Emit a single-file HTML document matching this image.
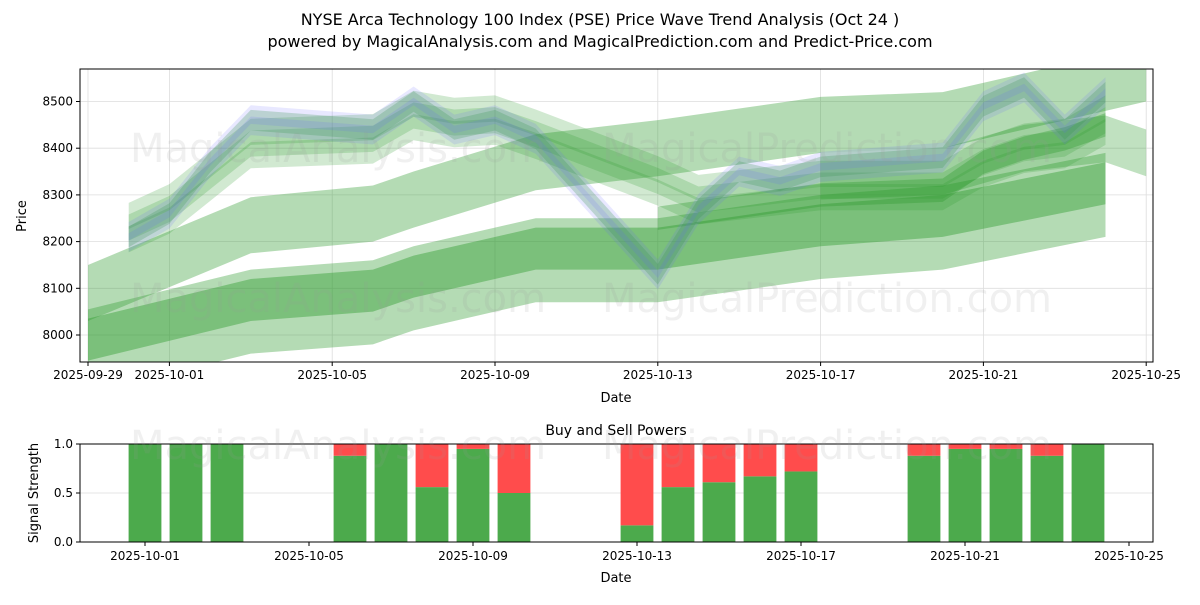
<!DOCTYPE html>
<html><head><meta charset="utf-8"><style>
body{margin:0;background:#fff;}
svg text{font-family:"DejaVu Sans","Liberation Sans",sans-serif;}
</style></head><body>
<svg id="c" width="1200" height="600" viewBox="0 0 1200 600" xmlns="http://www.w3.org/2000/svg">
<defs><clipPath id="clipTop"><rect x="80" y="69" width="1073" height="293"/></clipPath></defs>
<rect width="1200" height="600" fill="#fff"/>
<text x="600" y="25" text-anchor="middle" font-size="16">NYSE Arca Technology 100 Index (PSE) Price Wave Trend Analysis (Oct 24 )</text>
<text x="600" y="47" text-anchor="middle" font-size="16">powered by MagicalAnalysis.com and MagicalPrediction.com and Predict-Price.com</text>
<g id="topPanel"></g>
<g id="botPanel"></g>
</svg>
<script>
// day offsets from 2025-09-29
const tradeDays = [1,2,3,4,7,8,9,10,11,14,15,16,17,18,21,22,23,24,25];
const priceVals = [8210,8260,8370,8460,8440,8500,8440,8460,8420,8130,8270,8350,8330,8360,8380,8490,8530,8440,8520];
const clusterVals = [8230,8270,8340,8410,8420,8470,8455,8460,8430,8330,8290,8300,8310,8320,8320,8370,8400,8410,8460];
const midDays = [0,4,7,8,11,14,18,21,25,26];
const midVals = [8090,8235,8260,8290,8370,8400,8450,8460,8540,8560];
const lowDays = [0,4,7,8,11,14,18,21,25];
const lowVals = [7985,8070,8090,8120,8180,8180,8230,8250,8320];
const rightDays = [14,18,21,22,23,24,25];
const rightVals = [8250,8300,8310,8370,8400,8420,8450];
const extraDays = [18,21,23,25,26];
const extraVals = [8340,8350,8400,8420,8390];
const priceTicks = [8000,8100,8200,8300,8400,8500];
const topTickDays = [0,2,6,10,14,18,22,26];
const topTickLabels = ['2025-09-29','2025-10-01','2025-10-05','2025-10-09','2025-10-13','2025-10-17','2025-10-21','2025-10-25'];
const buyVals = [1,1,1,0.88,1,0.56,0.95,0.5,0.17,0.56,0.61,0.67,0.72,0.88,0.95,0.95,0.88,1];
const barDays = [2,3,4,7,8,9,10,11,14,15,16,17,18,21,22,23,24,25];
const botTickDays = [2,6,10,14,18,22,26];
const botTickLabels = ['2025-10-01','2025-10-05','2025-10-09','2025-10-13','2025-10-17','2025-10-21','2025-10-25'];
const sigTicks = [0,0.5,1];

const NS='http://www.w3.org/2000/svg';
function mk(p,tag,at){const e=document.createElementNS(NS,tag);for(const k in at)e.setAttribute(k,at[k]);p.appendChild(e);return e;}
const T={l:80,r:1153,t:69,b:362};
const xT=d=>88+d*40.7;
const yT=v=>335-(v-8000)*0.467;
const xB=d=>63+d*41;
const yB=v=>542-v*98;
const gTop=document.getElementById('topPanel'), gBot=document.getElementById('botPanel');
const svgRoot=document.getElementById('c');

priceTicks.forEach(v=>{const l=mk(gTop,'line',{x1:T.l,x2:T.r,y1:yT(v),y2:yT(v),stroke:'#ddd','stroke-width':0.8});

});
topTickDays.forEach(d=>{const l=mk(gTop,'line',{x1:xT(d),x2:xT(d),y1:T.t,y2:T.b,stroke:'#ddd','stroke-width':0.8});

});

const gBands=mk(gTop,'g',{'clip-path':'url(#clipTop)'});


function band(g,days,vals,half,shift,fill,op,name){
  const up=days.map((d,i)=>xT(d)+','+yT(vals[i]+shift+half));
  const dn=days.map((d,i)=>xT(d)+','+yT(vals[i]+shift-half)).reverse();
  const p=mk(g,'polygon',{points:up.concat(dn).join(' '),fill:fill,'fill-opacity':op});
  
  
}
const G='#2e9a2e';
band(gBands,midDays,midVals,60,0,G,0.36,'wave-band-middle');
band(gBands,lowDays,lowVals,90,-20,G,0.36,'wave-band-low-wide');
band(gBands,lowDays,lowVals,45,5,G,0.42,'wave-band-low');
band(gBands,extraDays,extraVals,50,0,G,0.3,'wave-band-extra');
band(gBands,rightDays,rightVals,25,0,G,0.35,'wave-band-right');
[-25,0,25].forEach(s=>band(gBands,tradeDays,clusterVals,28,s,G,0.22,'wave-band-cluster'));
band(gBands,tradeDays,priceVals,22,0,G,0.25,'wave-band-price-follow');
[-12,12].forEach(s=>band(gBands,tradeDays,priceVals,20,s,'#6666ff',0.15,'price-band'));

[[130,162,'MagicalAnalysis.com'],[602,162,'MagicalPrediction.com'],[130,312,'MagicalAnalysis.com'],[602,312,'MagicalPrediction.com'],[130,459,'MagicalAnalysis.com'],[602,459,'MagicalPrediction.com']].forEach(w=>{
  const t=mk(svgRoot,'text',{x:w[0],y:w[1],'font-size':40,fill:'#999','fill-opacity':0.15});t.textContent=w[2];
  
  });

mk(gTop,'rect',{x:T.l,y:T.t,width:T.r-T.l,height:T.b-T.t,fill:'none',stroke:'#000','stroke-width':1});
priceTicks.forEach(v=>{mk(gTop,'line',{x1:T.l-4,x2:T.l,y1:yT(v),y2:yT(v),stroke:'#000'});
  const t=mk(gTop,'text',{x:T.l-7,y:yT(v)+4,'text-anchor':'end','font-size':12});t.textContent=v;
  
  });
topTickDays.forEach((d,i)=>{mk(gTop,'line',{x1:xT(d),x2:xT(d),y1:T.b,y2:T.b+4,stroke:'#000'});
  const t=mk(gTop,'text',{x:xT(d),y:T.b+17,'text-anchor':'middle','font-size':12});t.textContent=topTickLabels[i];
  
  });
let tt=mk(gTop,'text',{x:616,y:402,'text-anchor':'middle','font-size':13});tt.textContent='Date';


tt=mk(gTop,'text',{x:26,y:216,'text-anchor':'middle','font-size':13,transform:'rotate(-90 26 216)'});tt.textContent='Price';



const B={l:80,r:1153,t:444,b:542};
mk(gBot,'line',{x1:B.l,x2:B.r,y1:yB(0.5),y2:yB(0.5),stroke:'#ddd','stroke-width':0.8});
buyVals.forEach((v,i)=>{const x=xB(barDays[i])-16.4;
  const g=mk(gBot,'rect',{x:x,y:yB(v),width:32.8,height:yB(0)-yB(v),fill:'#4caa4c'});
  
  
  const r=mk(gBot,'rect',{x:x,y:yB(1),width:32.8,height:yB(v)-yB(1),fill:'#ff4c4c'});
  
  });
mk(gBot,'rect',{x:B.l,y:B.t,width:B.r-B.l,height:B.b-B.t,fill:'none',stroke:'#000','stroke-width':1});
sigTicks.forEach(v=>{mk(gBot,'line',{x1:B.l-4,x2:B.l,y1:yB(v),y2:yB(v),stroke:'#000'});
  const t=mk(gBot,'text',{x:B.l-7,y:yB(v)+4,'text-anchor':'end','font-size':12});t.textContent=v.toFixed(1);
  
  });
botTickDays.forEach((d,i)=>{mk(gBot,'line',{x1:xB(d),x2:xB(d),y1:B.b,y2:B.b+4,stroke:'#000'});
  const t=mk(gBot,'text',{x:xB(d),y:B.b+18,'text-anchor':'middle','font-size':12});t.textContent=botTickLabels[i];
  
  });
tt=mk(gBot,'text',{x:616,y:435,'text-anchor':'middle','font-size':14});tt.textContent='Buy and Sell Powers';


tt=mk(gBot,'text',{x:616,y:582,'text-anchor':'middle','font-size':13});tt.textContent='Date';


tt=mk(gBot,'text',{x:38,y:493,'text-anchor':'middle','font-size':13,transform:'rotate(-90 38 493)'});tt.textContent='Signal Strength';


</script>
</body></html>
